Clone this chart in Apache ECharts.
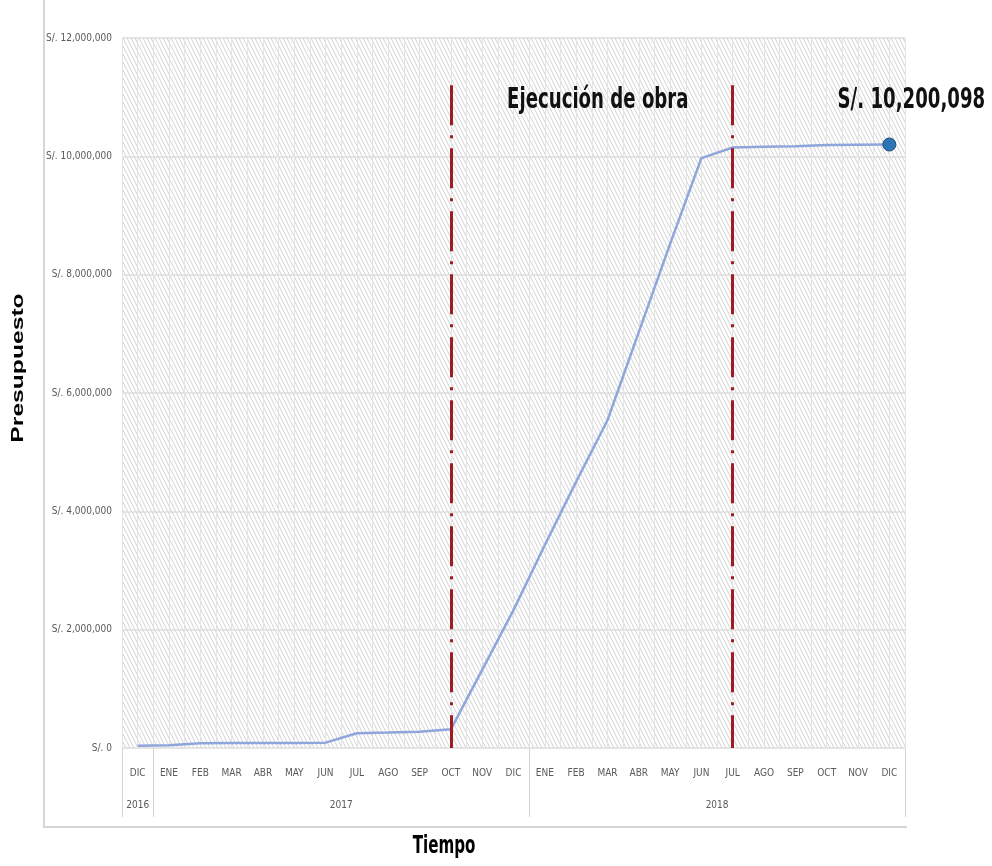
<!DOCTYPE html>
<html>
<head>
<meta charset="utf-8">
<title>Presupuesto</title>
<script src="https://cdn.jsdelivr.net/npm/echarts@6/dist/echarts.min.js"></script>
<style>
  html, body { margin: 0; padding: 0; background: #fff; }
  #chart { width: 992px; height: 866px; }
</style>
</head>
<body>
<div id="chart"></div>
<script>
// meses (dic 2016 .. dic 2018)
const months = ['DIC', 'ENE', 'FEB', 'MAR', 'ABR', 'MAY', 'JUN', 'JUL', 'AGO', 'SEP', 'OCT', 'NOV', 'DIC',
  'ENE', 'FEB', 'MAR', 'ABR', 'MAY', 'JUN', 'JUL', 'AGO', 'SEP', 'OCT', 'NOV', 'DIC'];
// años: etiqueta, posición central (en categorías) y separadores
const years = ['2016', '2017', '2018'];
const yearCenters = [0.5, 7, 19];
const yearBreaks = [0, 1, 13, 25];
// presupuesto acumulado (S/.)
const budget = [40000, 45000, 80000, 85000, 85000, 85000, 90000, 250000, 260000, 275000, 315000,
  1320000, 2330000, 3430000, 4500000, 5540000, 7030000, 8520000, 9970000, 10150000, 10160000,
  10170000, 10190000, 10195000, 10200098];
const yTicks = [0, 2000000, 4000000, 6000000, 8000000, 10000000, 12000000];
// inicio / fin de ejecución de obra (índices: OCT 2017, JUL 2018)
const phaseStart = 10;
const phaseEnd = 19;
const phaseTop = 11200000;
const phaseLabel = 'Ejecución de obra';

const narrow = "'Liberation Sans Narrow', 'DejaVu Sans Condensed', 'Roboto Condensed', 'Liberation Sans', sans-serif";

// fondo rayado
const tile = document.createElement('canvas');
tile.width = 4;
tile.height = 8;
const ctx = tile.getContext('2d');
ctx.fillStyle = '#ffffff';
ctx.fillRect(0, 0, 4, 8);
ctx.strokeStyle = '#d2d2d2';
ctx.lineWidth = 1;
[[-4, 0], [0, 0], [4, 0]].forEach(([ox, oy]) => {
  ctx.beginPath();
  ctx.moveTo(ox - 1, oy - 2);
  ctx.lineTo(ox + 5, oy + 10);
  ctx.stroke();
});

const fmtSoles = (v) => v === 0 ? 'S/. 0' : 'S/. ' + Number(v).toLocaleString('en-US');

const lastIdx = budget.length - 1;
const seriesData = budget.map((v, i) => i === lastIdx
  ? {
      value: v,
      symbol: 'circle',
      symbolSize: 13,
      itemStyle: { color: '#2e75b6', borderColor: '#1f4e79', borderWidth: 1 },
    }
  : v);

const chart = echarts.init(document.getElementById('chart'));

chart.setOption({
  animation: false,
  grid: {
    left: 122, right: 87, top: 38, bottom: 118,
    show: true,
    borderWidth: 0,
    backgroundColor: { image: tile, repeat: 'repeat' },
  },
  xAxis: [
    {
      type: 'category',
      data: months,
      boundaryGap: true,
      axisLine: { show: false },
      axisTick: { show: false },
      axisLabel: { margin: 20, color: '#595959', fontSize: 10, fontFamily: narrow, interval: 0 },
      splitLine: { show: false },
    },
    {
      type: 'value',
      min: 0, max: 25,
      position: 'bottom',
      axisLine: { show: false },
      axisTick: { show: true, customValues: yearBreaks, length: 69, lineStyle: { color: '#d4d4d4', width: 1 } },
      axisLabel: {
        customValues: yearCenters,
        margin: 52,
        color: '#595959', fontSize: 10, fontFamily: narrow,
        formatter: (v) => years[yearCenters.indexOf(v)] || '',
      },
      splitLine: { show: false },
    },
    {
      type: 'value',
      min: 0, max: 25, interval: 0.5,
      position: 'bottom',
      axisLine: { show: false },
      axisTick: { show: false },
      axisLabel: { show: false },
      splitLine: { show: true, lineStyle: { color: '#e4e4e4', width: 1 } },
    },
  ],
  yAxis: {
    type: 'value',
    min: yTicks[0],
    max: yTicks[yTicks.length - 1],
    interval: yTicks[1] - yTicks[0],
    axisLine: { show: false },
    axisTick: { show: false },
    axisLabel: { margin: 10, color: '#595959', fontSize: 10, fontFamily: narrow, formatter: fmtSoles },
    splitLine: { show: true, lineStyle: { color: '#dcdcdc', width: 1.5 } },
  },
  series: [
    {
      type: 'line',
      xAxisIndex: 0,
      data: seriesData,
      symbol: 'none',
      lineStyle: { color: '#8ea6dc', width: 2.5 },
      itemStyle: { color: '#8ea6dc' },
      z: 3,
      markLine: {
        silent: true,
        symbol: 'none',
        label: { show: false },
        lineStyle: { color: '#9e1c22', width: 3, type: [40, 10, 3, 10], opacity: 1 },
        data: [
          [{ coord: [phaseStart, phaseTop] }, { coord: [phaseStart, 0] }],
          [{ coord: [phaseEnd, phaseTop] }, { coord: [phaseEnd, 0] }],
        ],
      },
    },
  ],
});

// anotaciones: posición tomada de las escalas del gráfico
const pStart = chart.convertToPixel({ xAxisIndex: 0, yAxisIndex: 0 }, [phaseStart, phaseTop]);
const pEnd = chart.convertToPixel({ xAxisIndex: 0, yAxisIndex: 0 }, [phaseEnd, phaseTop]);
const pLast = chart.convertToPixel({ xAxisIndex: 0, yAxisIndex: 0 }, [lastIdx, budget[lastIdx]]);
const boldNarrow = "bold 28px " + narrow;

chart.setOption({
  graphic: [
    {
      type: 'polyline',
      silent: true,
      shape: { points: [[44, 0], [44, 827], [907, 827]] },
      style: { stroke: '#d6d6d6', lineWidth: 2, fill: null },
    },
    {
      type: 'text',
      x: (pStart[0] + pEnd[0]) / 2 + 6, y: pStart[1] + 15,
      scaleX: 0.72,
      z: 10,
      style: { text: phaseLabel, font: boldNarrow, fill: '#111', align: 'center', verticalAlign: 'middle' },
    },
    {
      type: 'text',
      x: pLast[0] + 22, y: pLast[1] - 44,
      scaleX: 0.72,
      z: 10,
      style: { text: fmtSoles(budget[lastIdx]), font: boldNarrow, fill: '#111', align: 'center', verticalAlign: 'middle' },
    },
    {
      type: 'text',
      x: 18, y: 368,
      rotation: Math.PI / 2,
      scaleX: 1.45,
      style: {
        text: 'Presupuesto',
        font: "bold 17px 'Liberation Sans', Arial, sans-serif",
        fill: '#000',
        align: 'center',
        verticalAlign: 'middle',
      },
    },
    {
      type: 'text',
      x: 444, y: 847,
      scaleX: 0.7,
      style: {
        text: 'Tiempo',
        font: "bold 24px " + narrow,
        fill: '#000',
        align: 'center',
        verticalAlign: 'middle',
      },
    },
  ],
});
</script>
</body>
</html>
